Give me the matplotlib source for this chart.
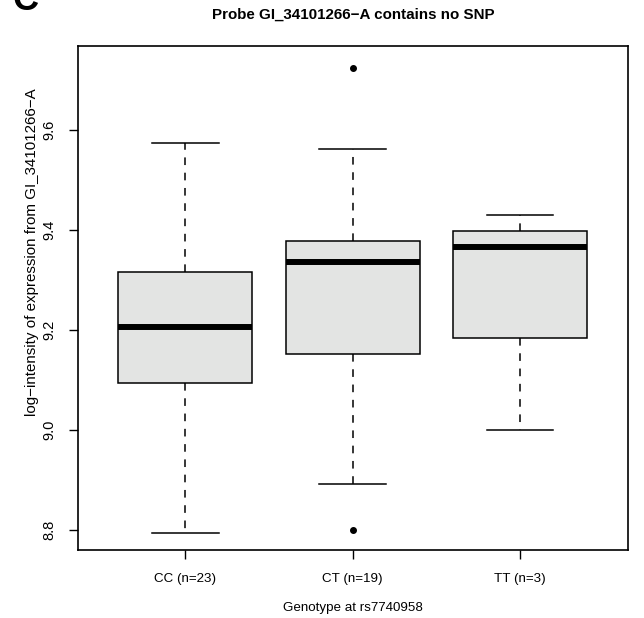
import matplotlib
matplotlib.use("Agg")
import matplotlib.pyplot as plt

plt.rcParams['font.family'] = ['Liberation Sans', 'DejaVu Sans']

# Data
genotypes = ["CC (n=23)", "CT (n=19)", "TT (n=3)"]
whisker_low = [8.795, 8.892, 9.000]
q1 = [9.095, 9.153, 9.184]
median = [9.207, 9.336, 9.366]
q3 = [9.317, 9.379, 9.398]
whisker_high = [9.575, 9.563, 9.430]
outliers = [[], [9.725, 8.800], []]

title = "Probe GI_34101266\u2212A contains no SNP"
ylabel = "log\u2212intensity of expression from GI_34101266\u2212A"
xlabel = "Genotype at rs7740958"
yticks = [8.8, 9.0, 9.2, 9.4, 9.6]

stats = []
for i, g in enumerate(genotypes):
    stats.append(dict(label=g, whislo=whisker_low[i], q1=q1[i], med=median[i],
                      q3=q3[i], whishi=whisker_high[i], fliers=outliers[i]))

W, H = 644, 618
fig = plt.figure(figsize=(W/100, H/100), dpi=100)
ax_l, ax_r, ax_t, ax_b = 78, 628, 46, 550
ax = fig.add_axes([ax_l/W, 1-ax_b/H, (ax_r-ax_l)/W, (ax_b-ax_t)/H])

ax.bxp(stats, positions=[1, 2, 3], widths=0.8, patch_artist=True,
       boxprops=dict(facecolor="#e3e4e3", edgecolor="black", linewidth=1.1),
       medianprops=dict(color="black", linewidth=4.3, solid_capstyle="butt"),
       whiskerprops=dict(color="black", linewidth=1.1, linestyle=(0, (5, 5))),
       capprops=dict(color="black", linewidth=1.1),
       capwidths=0.4,
       flierprops=dict(marker="o", markerfacecolor="black", markeredgecolor="black",
                       markersize=4, linestyle="none"))

ax.set_xlim(0.36, 3.645)
ax.set_ylim(8.76, 9.768)
ax.set_yticks(yticks)
ax.set_yticklabels([f"{v:.1f}" for v in yticks], rotation=90, va="center", fontsize=10.5)
ax.set_xticks([1, 2, 3])
ax.set_xticklabels(genotypes, fontsize=9.6)
ax.tick_params(axis="both", direction="out", length=6.5, width=1)
ax.tick_params(axis="x", pad=10)
ax.tick_params(axis="y", pad=9)
for s in ax.spines.values():
    s.set_linewidth(1.2)

ax.set_ylabel(ylabel, fontsize=10.9, va="center", ha="center")
ax.yaxis.set_label_coords((32-ax_l)/(ax_r-ax_l), 0.5 + ((ax_b+ax_t)/2 - 252)/(ax_b-ax_t))
ax.set_xlabel(xlabel, fontsize=9.6, va="center", ha="center")
ax.xaxis.set_label_coords(0.5, (ax_b-608)/(ax_b-ax_t))
fig.text(353/W, 1-15/H, title, ha="center", va="center", fontsize=10.9, fontweight="bold")
fig.text(13/W, 1-10/H, "C", ha="left", va="baseline", fontsize=26, fontweight="bold")

fig.savefig("out.png", dpi=100)
